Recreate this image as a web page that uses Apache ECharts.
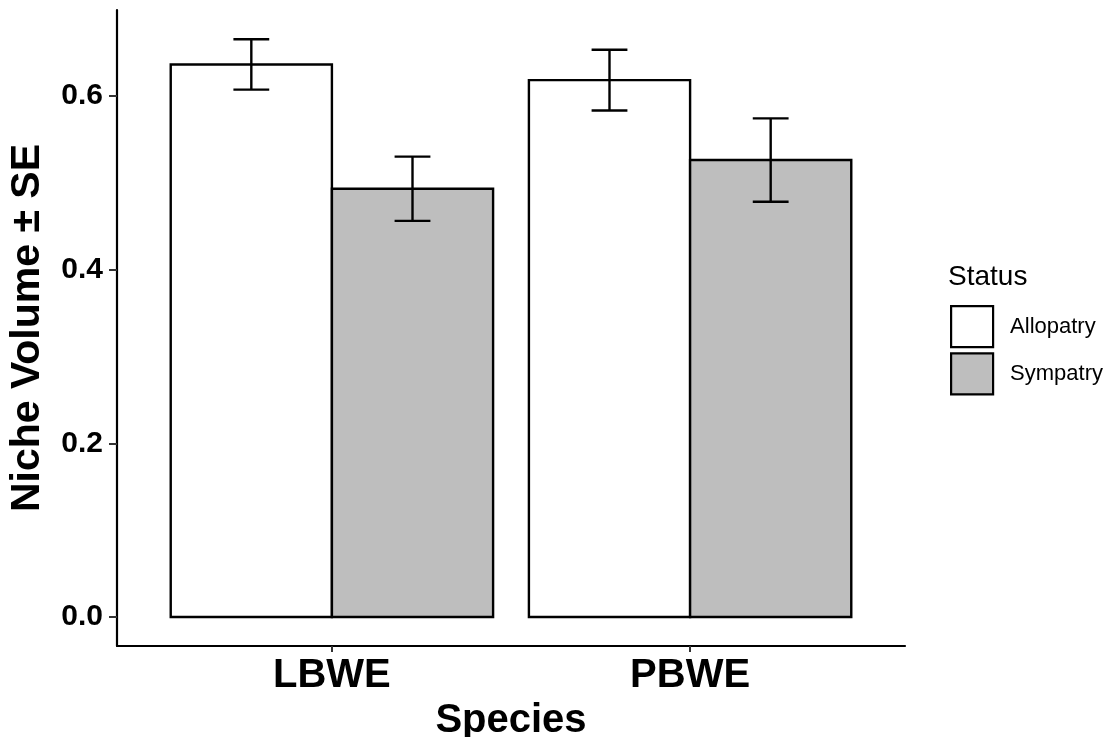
<!DOCTYPE html>
<html>
<head>
<meta charset="utf-8">
<script src="https://cdn.jsdelivr.net/npm/echarts@6/dist/echarts.min.js"></script>
<style>
html,body{margin:0;padding:0;background:#fff;}
#chart{width:1115px;height:737px;}
</style>
</head>
<body>
<div id="chart"></div>
<script>
// ---- data ----
var species = ['LBWE', 'PBWE'];
var statuses = ['Allopatry', 'Sympatry'];
var allopatryMean = [0.636, 0.618];
var allopatrySE = [0.029, 0.035];
var sympatryMean = [0.493, 0.526];
var sympatrySE = [0.037, 0.048];
var yTicks = [0, 0.2, 0.4, 0.6];

var FONT = 'Liberation Sans, Arial, sans-serif';
var fills = ['#FFFFFF', '#BEBEBE'];
var means = [allopatryMean, sympatryMean];
var ses = [allopatrySE, sympatrySE];

// dodge geometry (ggplot default: total width 0.9, errorbar width 0.1)
var totalW = 0.9, nGroups = statuses.length, barW = totalW / nGroups;

function barRender(g) {
  return function (params, api) {
    var xc = api.value(0), v = api.value(1);
    var x0 = xc - totalW / 2 + g * barW;
    var p1 = api.coord([x0, v]);
    var p2 = api.coord([x0 + barW, 0]);
    return {
      type: 'rect',
      shape: { x: p1[0], y: p1[1], width: p2[0] - p1[0], height: p2[1] - p1[1] },
      style: { fill: fills[g], stroke: '#000', lineWidth: 2.4 }
    };
  };
}

function errRender(params, api) {
  var xc = api.value(0), g = api.value(1), lo = api.value(2), hi = api.value(3);
  var cx = xc - totalW / 2 + (g + 0.5) * barW;
  var pl = api.coord([cx, lo]), ph = api.coord([cx, hi]);
  var a = api.coord([cx - 0.05, hi]), b = api.coord([cx + 0.05, hi]);
  var c = api.coord([cx - 0.05, lo]), d = api.coord([cx + 0.05, lo]);
  var st = { stroke: '#000', lineWidth: 2.4 };
  return {
    type: 'group',
    children: [
      { type: 'line', shape: { x1: pl[0], y1: pl[1], x2: ph[0], y2: ph[1] }, style: st },
      { type: 'line', shape: { x1: a[0], y1: a[1], x2: b[0], y2: b[1] }, style: st },
      { type: 'line', shape: { x1: c[0], y1: c[1], x2: d[0], y2: d[1] }, style: st }
    ]
  };
}

var series = [];
statuses.forEach(function (s, g) {
  series.push({
    name: s,
    type: 'custom',
    renderItem: barRender(g),
    itemStyle: { color: fills[g], borderColor: '#000', borderWidth: 2 },
    encode: { x: 0, y: 1 },
    data: species.map(function (sp, i) { return [i + 1, means[g][i]]; }),
    z: 2
  });
});
var errData = [];
statuses.forEach(function (s, g) {
  species.forEach(function (sp, i) {
    errData.push([i + 1, g, means[g][i] - ses[g][i], means[g][i] + ses[g][i]]);
  });
});
series.push({
  name: 'SE',
  type: 'custom',
  renderItem: errRender,
  encode: { x: 0, y: [2, 3] },
  data: errData,
  z: 3
});

var chart = echarts.init(document.getElementById('chart'), null, { renderer: 'canvas' });
chart.setOption({
  animation: false,
  backgroundColor: '#fff',
  textStyle: { fontFamily: FONT },
  title: {
    text: 'Status', left: 948, top: 263, padding: 0,
    textStyle: { fontFamily: FONT, fontSize: 28, fontWeight: 'normal', color: '#000' }
  },
  legend: {
    data: statuses,
    orient: 'vertical',
    left: 950, top: 305, padding: 0,
    icon: 'rect',
    itemWidth: 42, itemHeight: 41, itemGap: 4,
    itemStyle: { borderColor: '#000', borderWidth: 2.2 },
    textStyle: { fontFamily: FONT, fontSize: 22, color: '#000', padding: [0, 0, 0, 12] },
    selectedMode: false
  },
  grid: { left: 117, right: 210, top: 10, bottom: 91, containLabel: false, outerBoundsMode: 'none' },
  xAxis: {
    type: 'value',
    min: 0.4, max: 2.6,
    name: 'Species', nameLocation: 'middle', nameGap: 52,
    nameTextStyle: { fontFamily: FONT, fontSize: 40, fontWeight: 'bold', color: '#000' },
    axisLine: { show: true, onZero: false, lineStyle: { color: '#000', width: 2.2 } },
    axisTick: { show: true, customValues: [1, 2], length: 6, lineStyle: { color: '#333', width: 2 } },
    axisLabel: {
      customValues: [1, 2], margin: 10,
      fontFamily: FONT, fontSize: 40, fontWeight: 'bold', color: '#000',
      formatter: function (v) { return species[Math.round(v) - 1] || ''; }
    },
    splitLine: { show: false }
  },
  yAxis: {
    type: 'value',
    min: -0.0333, max: 0.6987,
    name: 'Niche Volume ± SE', nameLocation: 'middle', nameGap: 69, nameRotate: 90,
    nameTextStyle: { fontFamily: FONT, fontSize: 41, fontWeight: 'bold', color: '#000' },
    axisLine: { show: true, onZero: false, lineStyle: { color: '#000', width: 2.2 } },
    axisTick: { show: true, customValues: yTicks, length: 8, lineStyle: { color: '#333', width: 2 } },
    axisLabel: {
      customValues: yTicks, margin: 14,
      fontFamily: FONT, fontSize: 30, fontWeight: 'bold', color: '#000',
      formatter: function (v) { return v.toFixed(1); }
    },
    splitLine: { show: false }
  },
  series: series
});
</script>
</body>
</html>
